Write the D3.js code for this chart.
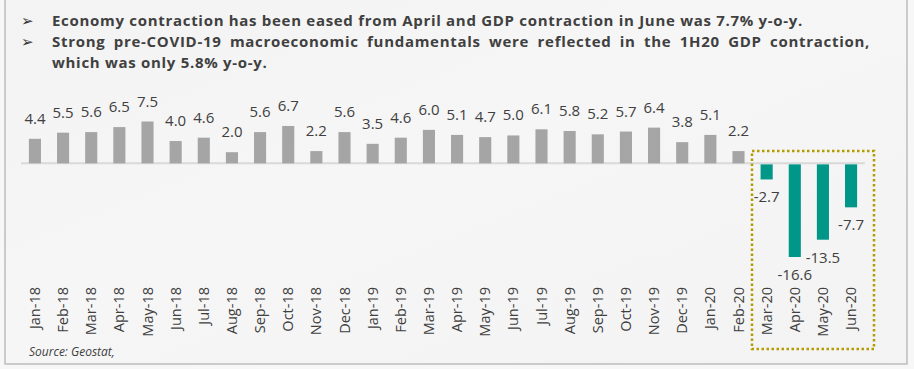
<!DOCTYPE html>
<html>
<head>
<meta charset="utf-8">
<script src="https://cdnjs.cloudflare.com/ajax/libs/d3/7.8.5/d3.min.js"></script>
<style>
  html, body { margin: 0; padding: 0; background: #f7f7f7; }
  svg { display: block; font-family: "Open Sans", "Noto Sans", sans-serif; }
</style>
</head>
<body>
<svg id="chart" width="914" height="369"></svg>
<script>

// data
var months = ['Jan-18','Feb-18','Mar-18','Apr-18','May-18','Jun-18','Jul-18','Aug-18','Sep-18','Oct-18','Nov-18','Dec-18',
              'Jan-19','Feb-19','Mar-19','Apr-19','May-19','Jun-19','Jul-19','Aug-19','Sep-19','Oct-19','Nov-19','Dec-19',
              'Jan-20','Feb-20','Mar-20','Apr-20','May-20','Jun-20']
var growth = [4.4,5.5,5.6,6.5,7.5,4.0,4.6,2.0,5.6,6.7,2.2,5.6,
              3.5,4.6,6.0,5.1,4.7,5.0,6.1,5.8,5.2,5.7,6.4,3.8,
              5.1,2.2,-2.7,-16.6,-13.5,-7.7]
var bullets = [
    ['Economy contraction has been eased from April and GDP contraction in June was 7.7% y-o-y.'],
    ['Strong pre-COVID-19 macroeconomic fundamentals were reflected in the 1H20 GDP contraction,',
     'which was only 5.8% y-o-y.']
]
var sourceText = 'Source: Geostat,'

var svg = d3.select('#chart')

// panel background + frame
var defs = svg.append('defs')
var grad = defs.append('linearGradient').attr('id', 'bg')
    .attr('x1', '0').attr('y1', '0').attr('x2', '1').attr('y2', '1')
grad.append('stop').attr('offset', '0').attr('stop-color', '#f3f3f3')
grad.append('stop').attr('offset', '0.45').attr('stop-color', '#f6f6f6')
grad.append('stop').attr('offset', '1').attr('stop-color', '#f3f3f3')

svg.append('rect')
    .attr('x', 5).attr('y', -5)
    .attr('width', 902).attr('height', 369)
    .attr('fill', 'url(#bg)')
    .attr('stroke', '#bdbdbd')
    .attr('stroke-width', 1.5)

// bullet text
var bulletY = [26, 47]
var lineGap = 21
bullets.forEach(function(lines, i){
    svg.append('text')
        .attr('x', 21).attr('y', bulletY[i])
        .attr('font-size', 15)
        .attr('font-family', '"DejaVu Sans", sans-serif')
        .attr('fill', '#333')
        .text('\u27A2')
    lines.forEach(function(line, j){
        var t = svg.append('text')
            .attr('x', 52).attr('y', bulletY[i] + j * lineGap)
            .attr('font-size', 15)
            .attr('font-weight', 'bold')
            .attr('letter-spacing', 0.7)
            .attr('fill', '#404040')
            .text(line)
        // justify all but the last line of a wrapped bullet (spread via word spacing)
        if (lines.length > 1 && j < lines.length - 1) {
            var natural = t.node().getComputedTextLength()
            var gaps = line.split(' ').length - 1
            t.attr('word-spacing', Math.max(0, ((870 - 52) - natural) / gaps))
        }
    })
})

// scales
var x = d3.scaleBand()
    .domain(months)
    .range([21, 865])
    .paddingInner(0.57)
    .paddingOuter(0.28)

var y = d3.scaleLinear()
    .domain([-16.6, 7.5])
    .range([256, 121.5])

var y0 = y(0)

// zero line
svg.append('line')
    .attr('x1', 21).attr('x2', 865)
    .attr('y1', y0).attr('y2', y0)
    .attr('stroke', '#d9d9d9')
    .attr('stroke-width', 2)

// bars
var data = months.map(function(m, i){ return {month: m, value: growth[i]} })

svg.selectAll('.bar')
    .data(data)
    .enter().append('rect')
    .classed('bar', true)
    .attr('x', function(d){ return x(d.month) })
    .attr('width', x.bandwidth())
    .attr('y', function(d){ return d.value >= 0 ? y(d.value) : y0 + 1 })
    .attr('height', function(d){ return Math.abs(y(d.value) - y0) })
    .attr('fill', function(d){ return d.value >= 0 ? '#a5a5a5' : '#009688' })

// value labels
svg.selectAll('.val')
    .data(data)
    .enter().append('text')
    .classed('val', true)
    .attr('x', function(d){ return x(d.month) + x.bandwidth() / 2 })
    .attr('y', function(d){ return d.value >= 0 ? y(d.value) - 15 : y(d.value) + 24 })
    .attr('text-anchor', 'middle')
    .attr('font-size', 15)
    .attr('fill', '#404040')
    .text(function(d){ return d.value.toFixed(1) })

// x axis labels
var xAxis = d3.axisBottom(x).tickSize(0).tickPadding(0)
var gx = svg.append('g')
    .attr('transform', 'translate(0,287)')
    .call(xAxis)
gx.select('.domain').remove()
gx.selectAll('text')
    .attr('transform', 'rotate(-90)')
    .attr('x', 0).attr('y', 0).attr('dy', '0.35em')
    .attr('text-anchor', 'end')
    .attr('font-size', 14.5)
    .attr('font-family', '"Open Sans", "Noto Sans", sans-serif')
    .attr('fill', '#404040')

// highlight box around the covid months
svg.append('rect')
    .attr('x', 752).attr('y', 151)
    .attr('width', 122).attr('height', 198)
    .attr('fill', 'none')
    .attr('stroke', '#b39b00')
    .attr('stroke-width', 2.5)
    .attr('stroke-dasharray', '2.5,2.5')

// source
svg.append('text')
    .attr('x', 29).attr('y', 356)
    .attr('font-size', 12)
    .attr('font-style', 'italic')
    .attr('fill', '#404040')
    .text(sourceText)

</script>
</body>
</html>
